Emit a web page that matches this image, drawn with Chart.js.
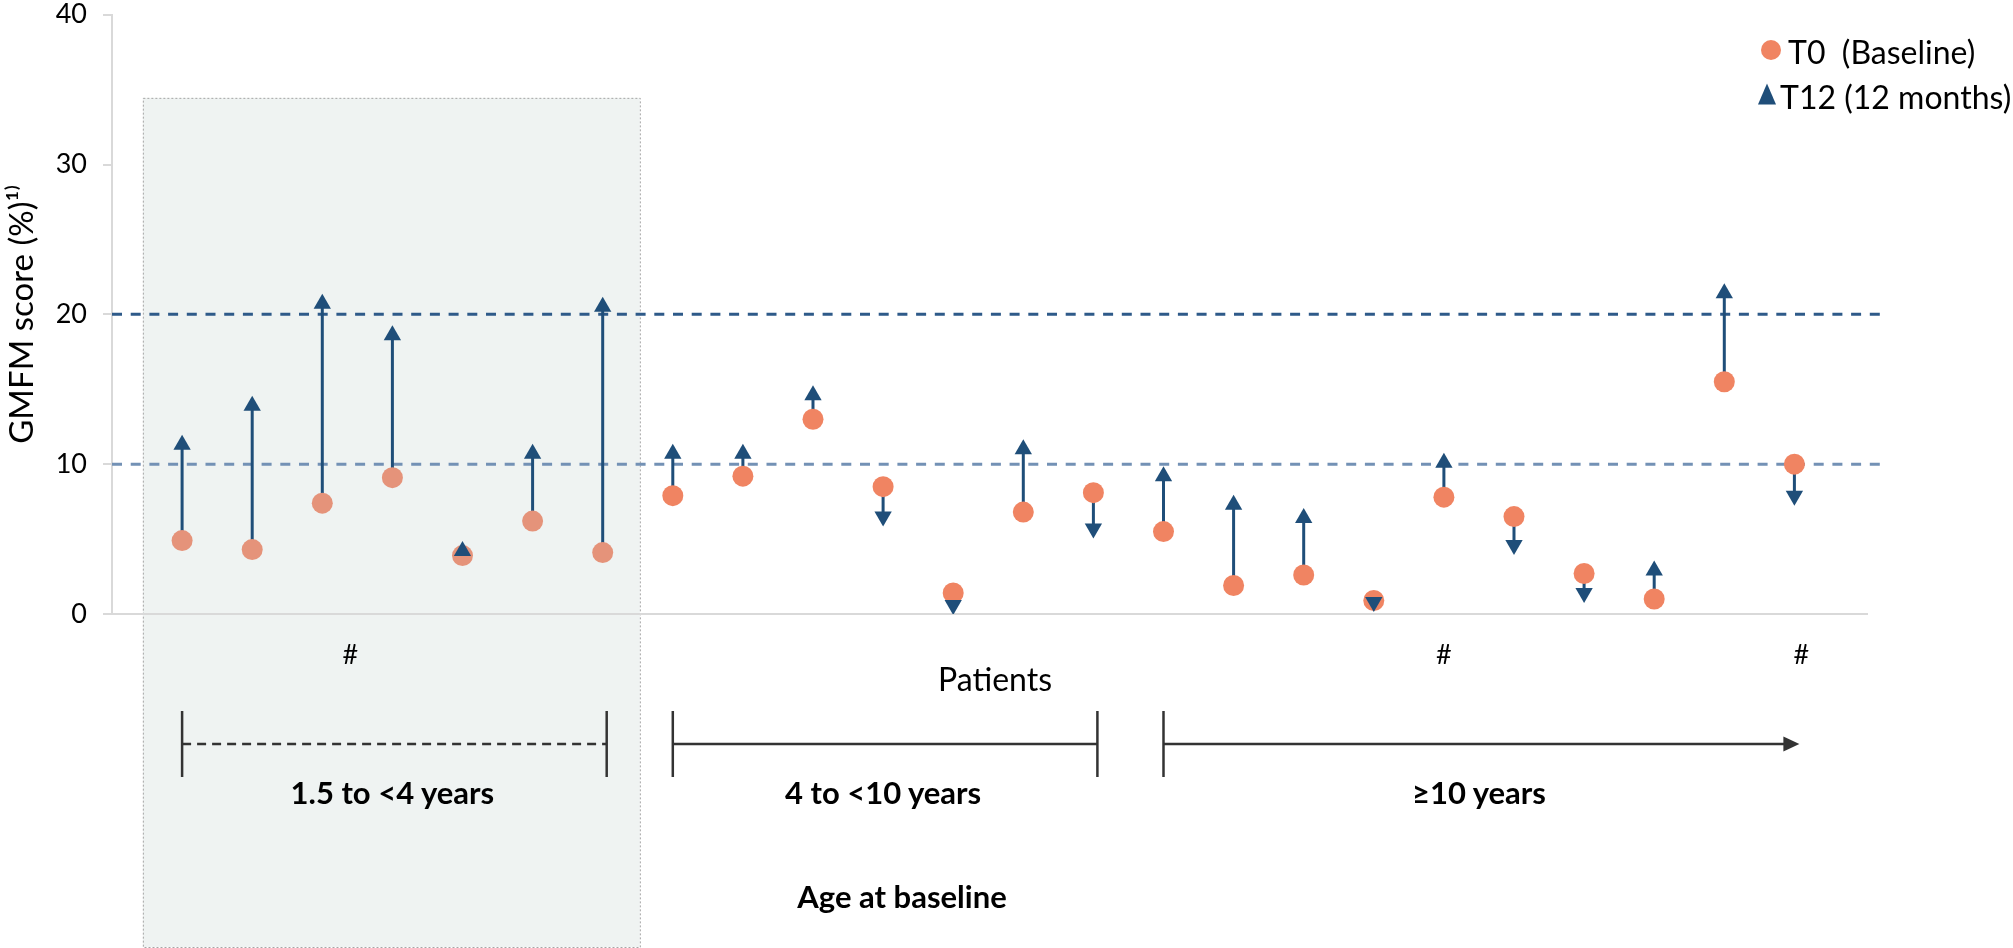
<!DOCTYPE html>
<html>
<head>
<meta charset="utf-8">
<script src="https://cdn.jsdelivr.net/npm/chart.js@4.4.1/dist/chart.umd.min.js"></script>
<style>
  html, body { margin:0; padding:0; background:#ffffff; }
  #wrap { position:relative; width:2013px; height:948px; overflow:hidden; font-family: Lato, "Open Sans", sans-serif; color:#000; }
  #c { position:absolute; left:0; top:0; }
  .lbl { position:absolute; white-space:pre; transform:translate(-50%,-50%); line-height:1; color:#000; }
  .bold { font-weight:bold; }
  .leg { position:absolute; white-space:pre; font-size:32px; line-height:1; color:#000; transform:translateY(-50%); }
  .dot { position:absolute; width:20px; height:20px; border-radius:50%; background:#F08462; transform:translate(-50%,-50%); }
  .tri { position:absolute; width:0; height:0; border-left:9.5px solid transparent; border-right:9.5px solid transparent; border-bottom:21px solid #1F4E79; transform:translate(-50%,-50%); }
</style>
</head>
<body>
<div id="wrap">
  <canvas id="c" width="2013" height="948"></canvas>
  <div class="dot" style="left:1771px; top:50px;"></div>
  <div class="leg" style="left:1788px; top:52px;">T0  (Baseline)</div>
  <div class="tri" style="left:1767px; top:94px;"></div>
  <div class="leg" style="left:1780px; top:97px;">T12 (12 months)</div>
  <div class="lbl" id="patientsLbl" style="left:995px; top:679px; font-size:32px;">Patients</div>
  <div class="lbl bold" id="ageLbl" style="left:902px; top:896px; font-size:31px;">Age at baseline</div>
</div>
<script>
// ---- data ----
const patients = [1,2,3,4,5,6,7,8,9,10,11,12,13,14,15,16,17,18,19,20,21,22,23,24];
const t0Values  = [4.9, 4.3, 7.4, 9.1, 3.9, 6.2, 4.1, 7.9, 9.2, 13.0, 8.5, 1.4, 6.8, 8.1, 5.5, 1.9, 2.6, 0.9, 7.8, 6.5, 2.7, 1.0, 15.5, 10.0];
const t12Values = [11.3, 13.9, 20.7, 18.6, 4.2, 10.7, 20.5, 10.7, 10.7, 14.6, 6.5, 0.6, 11.0, 5.7, 9.2, 7.3, 6.4, 0.8, 10.1, 4.6, 1.4, 2.9, 21.4, 7.9];
const yTickValues = [0, 10, 20, 30, 40];
const referenceLines = [10, 20];
const ageGroups = ['1.5 to <4 years', '4 to <10 years', '≥10 years'];
const groupFirst = [1, 8, 15];
const groupLast  = [7, 14, 24];
const hashPatients = [3.4, 19, 24.1];

// ---- derived structures ----
const t0Points  = patients.map((p, i) => ({ x: p, y: t0Values[i] }));
const t12Points = patients.map((p, i) => ({ x: p, y: t12Values[i] }));
const t12Rotation = t12Values.map((v, i) => (v < t0Values[i] ? 180 : 0));
const t0Colors = patients.map(p => (p <= groupLast[0] ? '#E5937A' : '#F08462'));
const changeSegments = [];
patients.forEach((p, i) => {
  changeSegments.push({ x: p, y: t0Values[i] });
  changeSegments.push({ x: p, y: t12Values[i] });
  changeSegments.push({ x: p, y: null });
});

// HTML labels for groups and hashes
const wrap = document.getElementById('wrap');
const groupEls = ageGroups.map(t => {
  const d = document.createElement('div');
  d.className = 'lbl bold'; d.style.fontSize = '31px'; d.textContent = t;
  wrap.appendChild(d); return d;
});
const hashEls = hashPatients.map(() => {
  const d = document.createElement('div');
  d.className = 'lbl'; d.style.fontSize = '27px'; d.textContent = '#';
  wrap.appendChild(d); return d;
});

const decor = {
  id: 'decor',
  beforeDraw(chart) {
    const { ctx, scales: { x, y } } = chart;
    const l = x.getPixelForValue(0.44), r = x.getPixelForValue(7.53);
    const t = y.getPixelForValue(34.45);
    const b = chart.height - 1;
    ctx.save();
    ctx.fillStyle = '#EFF3F2';
    ctx.fillRect(l, t, r - l, b - t);
    ctx.strokeStyle = '#A6A6A6';
    ctx.lineWidth = 1;
    ctx.setLineDash([2, 2]);
    ctx.strokeRect(l + 0.5, t + 0.5, r - l, b - t);
    ctx.restore();
  },
  beforeDatasetsDraw(chart) {
    const { ctx, chartArea, scales: { y } } = chart;
    const colors = { 10: '#7391B5', 20: '#2E5A89' };
    ctx.save();
    ctx.lineWidth = 3;
    ctx.setLineDash([10, 8.7]);
    referenceLines.forEach(v => {
      const py = y.getPixelForValue(v);
      ctx.strokeStyle = colors[v];
      ctx.beginPath();
      ctx.moveTo(chartArea.left, py);
      ctx.lineTo(chartArea.right + 20, py);
      ctx.stroke();
    });
    ctx.restore();
  },
  afterDraw(chart) {
    const { ctx, scales: { x } } = chart;
    const yLine = 744, yTop = 711, yBot = 777;
    ctx.save();
    ctx.strokeStyle = '#333333';
    ctx.fillStyle = '#333333';
    ctx.lineWidth = 2.5;
    ageGroups.forEach((g, i) => {
      const a = x.getPixelForValue(groupFirst[i]);
      const b = x.getPixelForValue(groupLast[i]);
      ctx.setLineDash([]);
      ctx.beginPath(); ctx.moveTo(a, yTop); ctx.lineTo(a, yBot); ctx.stroke();
      if (i < ageGroups.length - 1) {
        ctx.beginPath(); ctx.moveTo(b + 4, yTop); ctx.lineTo(b + 4, yBot); ctx.stroke();
        if (i === 0) ctx.setLineDash([9, 6]);
        ctx.beginPath(); ctx.moveTo(a, yLine); ctx.lineTo(b + 4, yLine); ctx.stroke();
        ctx.setLineDash([]);
      } else {
        const tip = b + 5;
        ctx.beginPath(); ctx.moveTo(a, yLine); ctx.lineTo(tip - 14, yLine); ctx.stroke();
        ctx.beginPath();
        ctx.moveTo(tip, yLine);
        ctx.lineTo(tip - 16, yLine - 7.5);
        ctx.lineTo(tip - 16, yLine + 7.5);
        ctx.closePath(); ctx.fill();
      }
      const cx = (a + b) / 2;
      groupEls[i].style.left = cx + 'px';
      groupEls[i].style.top = '792px';
    });
    hashPatients.forEach((h, i) => {
      hashEls[i].style.left = x.getPixelForValue(h) + 'px';
      hashEls[i].style.top = '653px';
    });
    ctx.restore();
  }
};

new Chart(document.getElementById('c'), {
  type: 'scatter',
  data: {
    datasets: [
      {
        label: 'T12 (12 months)', data: t12Points,
        pointStyle: 'triangle', pointRadius: 10, pointHoverRadius: 10,
        pointRotation: t12Rotation,
        backgroundColor: '#1F4E79', borderColor: '#1F4E79', borderWidth: 0,
        order: 0
      },
      {
        label: 'T0  (Baseline)', data: t0Points,
        pointStyle: 'circle', pointRadius: 10.5, pointHoverRadius: 10.5,
        backgroundColor: t0Colors, borderColor: t0Colors, borderWidth: 0,
        order: 1
      },
      {
        type: 'line', label: 'change', data: changeSegments,
        borderColor: '#1F4E79', borderWidth: 3, pointRadius: 0, pointHoverRadius: 0,
        spanGaps: false, fill: false, showLine: true, order: 2
      }
    ]
  },
  options: {
    responsive: false,
    animation: false,
    events: [],
    layout: { padding: { left: 0, right: 145, top: 0, bottom: 334 } },
    plugins: { legend: { display: false }, tooltip: { enabled: false } },
    scales: {
      x: { type: 'linear', min: 0, max: 25.05, display: false },
      y: {
        type: 'linear', min: 0, max: 40,
        afterFit(scale) { scale.width = 112; scale.paddingTop = 14.7; scale.paddingBottom = 0; },
        afterBuildTicks(scale) { scale.ticks = yTickValues.map(v => ({ value: v })); },
        ticks: { color: '#000', font: { family: 'Lato', size: 27 }, padding: 16 },
        border: { color: '#D9D9D9', width: 2 },
        grid: {
          color: c => (c.tick && c.tick.value === 0 ? '#D9D9D9' : 'rgba(0,0,0,0)'),
          tickColor: '#D9D9D9', tickLength: 9, lineWidth: 2, drawOnChartArea: true
        },
        title: {
          display: true, text: 'GMFM score (%)¹⁾', color: '#000',
          font: { family: 'Lato', size: 33 }, padding: { top: 3, bottom: 0 }
        }
      }
    }
  },
  plugins: [decor]
});
</script>
</body>
</html>
